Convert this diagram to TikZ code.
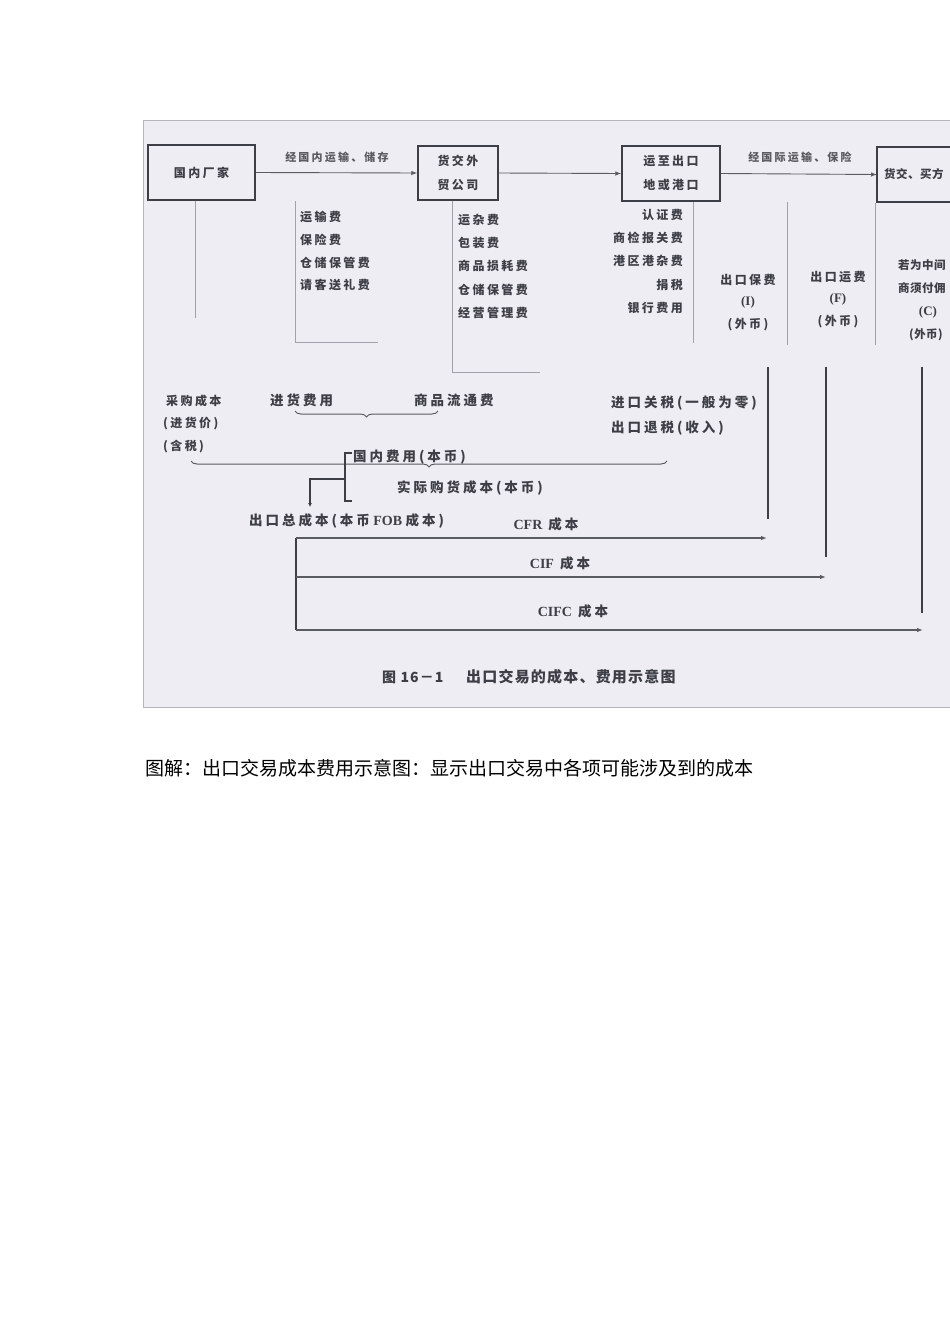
\documentclass[tikz,border=0pt]{standalone}
\usepackage{fontspec}
\setmainfont{Noto Sans CJK SC}
\newfontfamily\dg{Noto Sans CJK SC}[LetterSpace=20]
\newfontfamily\dgw{Noto Sans CJK SC}[LetterSpace=22]
\newfontfamily\dgt{Noto Sans CJK SC}[LetterSpace=4]
\newfontfamily\dgcap{Noto Sans CJK SC}[LetterSpace=8]
\newfontfamily\lat{Liberation Serif}
\usetikzlibrary{arrows.meta,decorations.pathreplacing}
\definecolor{scanbg}{HTML}{EEEDF3}
\definecolor{scanframe}{HTML}{B4B4BC}
\definecolor{ink}{HTML}{3E3E46}
\definecolor{faint}{HTML}{A2A2AC}
\tikzset{
  box/.style={draw=ink, line width=1.5pt, inner sep=0pt, align=center,
    font=\dg\bfseries\fontsize{12}{24}\selectfont, text=ink},
  lbl/.style={font=\dg\bfseries\fontsize{12}{12}\selectfont, text=ink, inner sep=0pt},
  tight/.style={font=\dgt\bfseries\fontsize{11.5}{11.5}\selectfont, text=ink, inner sep=0pt},
  latin/.style={font=\lat\bfseries\fontsize{13}{13}\selectfont, text=ink, inner sep=0pt},
  big/.style={font=\dgw\bfseries\fontsize{13.5}{13.5}\selectfont, text=ink, inner sep=0pt},
  small/.style={font=\dg\bfseries\fontsize{11}{11}\selectfont, text=ink!85, inner sep=0pt},
  sep/.style={draw=faint, line width=0.8pt},
  flow/.style={draw=ink!85, line width=0.9pt, -{Latex[length=6pt,width=4.5pt]}},
  heavy/.style={draw=ink, line width=2pt},
  costarrow/.style={draw=ink!85, line width=1.3pt, -{Latex[length=6pt,width=4.5pt]}},
  bracebar/.style={draw=ink!85, line width=1pt, decorate, decoration={brace, amplitude=6pt}},
}
\begin{document}
\begin{tikzpicture}[x=1pt,y=-1pt]
\useasboundingbox (0,0) rectangle (950,1344);
\fill[white] (0,0) rectangle (950,1344);
\begin{scope}
\clip (0,0) rectangle (950,1344);
% scanned figure background
\fill[scanbg] (143,120) rectangle (952,707);
\draw[scanframe, line width=1pt] (952,120) -- (143,120) -- (143,707) -- (952,707);

% top row boxes
\node[box, minimum width=107pt, minimum height=55pt] (A) at (201.5,172.5) {国内厂家};
\node[box, minimum width=80pt, minimum height=54pt] (B) at (458,173) {货交外\\贸公司};
\node[box, minimum width=98pt, minimum height=55pt] (C) at (671,173.5) {运至出口\\地或港口};
\draw[ink, line width=1.5pt] (955,147) -- (877,147) -- (877,202) -- (955,202);
\node[tight, anchor=west] (D) at (884,174.5) {货交、买方};
\coordinate (Dw) at (877,174.5);

\draw[flow] (A.east) -- (B.west);
\draw[flow] (B.east) -- (C.west);
\draw[flow] (C.east) -- (Dw);
\node[small] (t1) at (337,157) {经国内运输、储存};
\node[small] (t2) at (800,157) {经国际运输、保险};

% separator lines
\draw[sep] (195,201) -- (195,318);
\draw[sep] (295,201) -- (295,342) -- (378,342);
\draw[sep] (452,201) -- (452,372) -- (540,372);
\draw[sep] (693,202) -- (693,343);
\draw[sep] (787,202) -- (787,345);
\draw[sep] (875,203) -- (875,345);

% cost lists
\foreach \t [count=\i] in {运输费,保险费,仓储保管费,请客送礼费}
  \node[lbl, anchor=west] (pa\i) at (300,{217+22.7*(\i-1)}) {\t};
\foreach \t [count=\i] in {运杂费,包装费,商品损耗费,仓储保管费,经营管理费}
  \node[lbl, anchor=west] (pb\i) at (458,{220+23.2*(\i-1)}) {\t};
\foreach \t [count=\i] in {认证费,商检报关费,港区港杂费,捐税,银行费用}
  \node[lbl, anchor=east] (pc\i) at (683,{215+23.2*(\i-1)}) {\t};

\node[lbl] (i1) at (748,280) {出口保费};
\node[latin] (i2) at (748,302) {(I)};
\node[lbl] (i3) at (748,325) {(外币)};
\node[lbl] (f1) at (838,277) {出口运费};
\node[latin] (f2) at (838,299) {(F)};
\node[lbl] (f3) at (838,322) {(外币)};
\node[tight, anchor=west] (c1) at (898,265) {若为中间};
\node[tight, anchor=west] (c2) at (898,288) {商须付佣};
\node[latin] (c3) at (928,312) {(C)};
\node[tight] (c4) at (926,335) {(外币)};

% lower left block
\node[lbl, anchor=west] (g1) at (166,401) {采购成本};
\node[lbl, anchor=west] (g2) at (163,424) {(进货价)};
\node[lbl, anchor=west] (g3) at (163,447) {(含税)};
\node[big, anchor=west] (h1) at (270,400) {进货费用};
\node[big, anchor=west] (h2) at (414,400) {商品流通费};
\draw[bracebar] (438,411) -- (295,411);
\draw[bracebar] (667,461) -- (191,461);

\node[big, anchor=west] (j1) at (611,403) {进口关税(一般为零)};
\node[big, anchor=west] (j2) at (611,428) {出口退税(收入)};

\node[big, anchor=west] (dom) at (353,457) {国内费用(本币)};
\node[big, anchor=west] (real) at (397,488) {实际购货成本(本币)};
\draw[ink, line width=1.3pt] (352,453) -- (345,453) -- (345,501) -- (352,501);
\coordinate (brk) at (345,479);
\node[big, anchor=west] (fob) at (249,521) {出口总成本(本币{\lat\fontsize{14}{14}\selectfont\ FOB\ }成本)};
\coordinate (fobtop) at (310,507);
\draw[ink, line width=1.3pt, -{Latex[length=4pt,width=4pt]}] (brk) -- (310,479) -- (fobtop);

% heavy verticals
\draw[heavy] (768,367) -- (768,519);
\draw[heavy] (826,367) -- (826,557);
\draw[heavy] (922,367) -- (922,613);

% cost arrows
\coordinate (s1) at (296,538);
\coordinate (s2) at (296,577);
\coordinate (s3) at (296,630);
\coordinate (e1) at (767,538);
\coordinate (e2) at (826,577);
\coordinate (e3) at (923,630);
\draw[draw=ink, line width=1.5pt] (s1) -- (s3);
\draw[costarrow] (s1) -- (e1);
\draw[costarrow] (s2) -- (e2);
\draw[costarrow] (s3) -- (e3);
\node[big] (cfr) at (546,524) {{\lat\fontsize{14}{14}\selectfont CFR} 成本};
\node[big] (cif) at (560,563) {{\lat\fontsize{14}{14}\selectfont CIF} 成本};
\node[big] (cifc) at (573,611) {{\lat\fontsize{14}{14}\selectfont CIFC} 成本};

% figure title
\node[font=\dgcap\bfseries\fontsize{14}{14}\selectfont, text=ink, inner sep=0pt, anchor=west] (ft1) at (382,677) {图 16－1};
\node[font=\dgcap\bfseries\fontsize{15}{15}\selectfont, text=ink, inner sep=0pt, anchor=west] (ft2) at (466,677) {出口交易的成本、费用示意图};
\end{scope}

% caption below
\node[font=\fontsize{19}{19}\selectfont, text=black, inner sep=0pt, anchor=west] (cap) at (145,768) {图解：出口交易成本费用示意图：显示出口交易中各项可能涉及到的成本};
\end{tikzpicture}
\end{document}
